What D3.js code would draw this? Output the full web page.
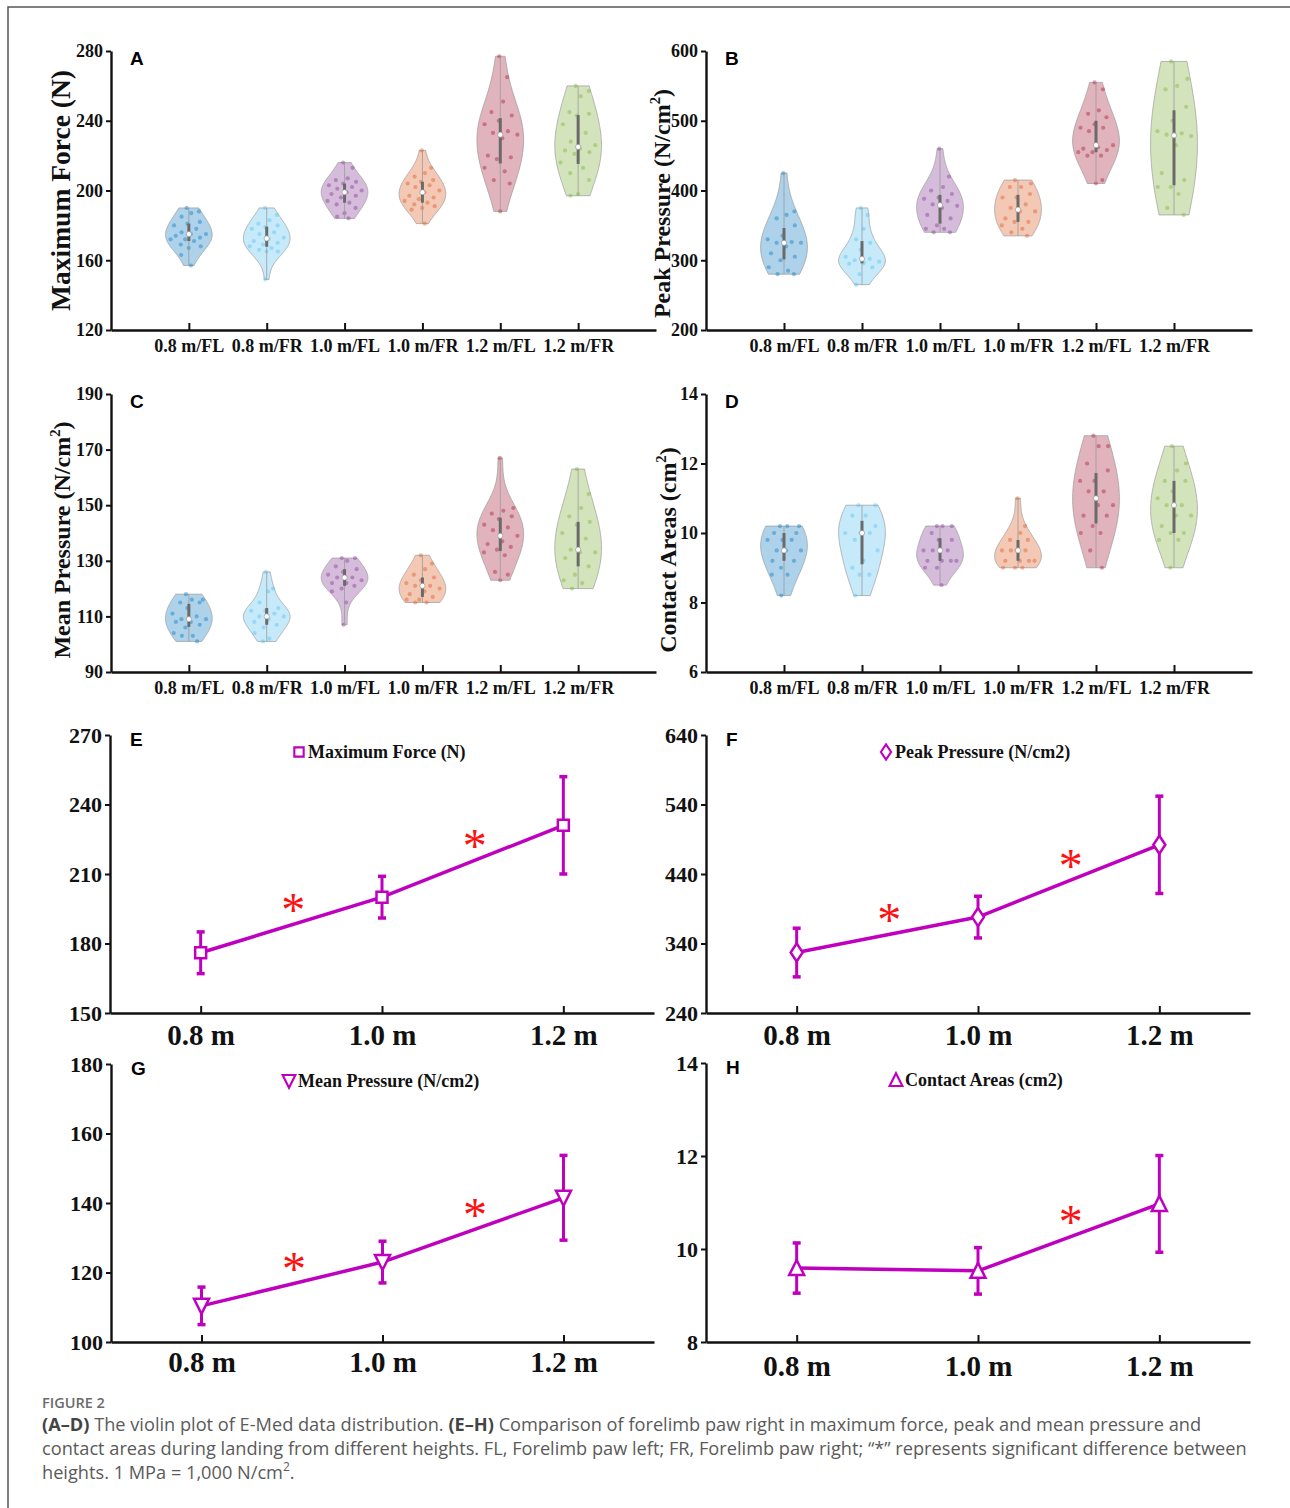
<!DOCTYPE html>
<html>
<head>
<meta charset="utf-8">
<script src="https://cdn.jsdelivr.net/npm/d3@7"></script>
<style>
  body { margin: 0; background: #fff; }
  .tick text { font-family: "Liberation Serif", serif; font-weight: bold; fill: #111; }
</style>
</head>
<body>
<svg id="fig" width="1290" height="1508"></svg>
<script>
// ---- data ----
const violinCats = ["0.8 m/FL", "0.8 m/FR", "1.0 m/FL", "1.0 m/FR", "1.2 m/FL", "1.2 m/FR"];
const violinColors = ["#0072BD", "#4DBEEE", "#7E2F8E", "#D95319", "#A2142F", "#77AC30"];

const maxForce = [
  [190, 188, 187, 185, 182, 181, 180, 178, 176, 175, 175, 174, 173, 172, 172, 171, 169, 168, 167, 163, 157],
  [190, 186, 183, 181, 180, 179, 178, 176, 175, 173, 172, 171, 170, 169, 168, 167, 166, 165, 165, 149],
  [216, 213, 207, 206, 205, 204, 203, 202, 201, 200, 199, 198, 197, 196, 194, 193, 192, 190, 187, 185, 184],
  [223, 213, 210, 208, 206, 205, 204, 203, 202, 200, 199, 197, 196, 195, 194, 193, 192, 191, 190, 189, 181],
  [277, 265, 251, 245, 243, 240, 238, 234, 233, 232, 230, 220, 219, 218, 213, 211, 206, 204, 188],
  [260, 257, 254, 245, 244, 243, 238, 233, 228, 226, 224, 223, 222, 221, 216, 213, 210, 206, 198, 197]
];
const peakPressure = [
  [425, 370, 365, 360, 350, 335, 330, 326, 325, 325, 320, 310, 305, 300, 290, 285, 280, 280],
  [375, 365, 345, 330, 325, 315, 305, 302, 300, 298, 296, 295, 290, 280, 265],
  [460, 420, 405, 400, 395, 390, 388, 385, 380, 378, 375, 365, 360, 350, 345, 345, 340, 340],
  [415, 410, 405, 405, 395, 390, 390, 380, 375, 370, 370, 360, 355, 355, 350, 345, 340, 335],
  [555, 545, 515, 510, 505, 495, 490, 490, 485, 465, 462, 460, 458, 455, 455, 450, 450, 415, 410],
  [585, 560, 550, 545, 520, 500, 485, 482, 480, 478, 465, 425, 415, 405, 405, 395, 375, 365]
];
const meanPressure = [
  [118, 116, 116, 115, 115, 113, 111, 110, 109, 109, 108, 108, 107, 106, 104, 103, 103, 101],
  [126, 120, 119, 115, 113, 112, 112, 111, 110, 110, 109, 108, 107, 106, 104, 102, 101],
  [131, 131, 130, 128, 127, 126, 125, 124, 124, 123, 122, 122, 121, 120, 119, 115, 107],
  [132, 129, 127, 125, 124, 123, 122, 121, 121, 120, 119, 118, 117, 116, 116, 115, 115],
  [167, 149, 148, 147, 146, 145, 143, 142, 141, 139, 137, 136, 135, 134, 133, 132, 126, 125, 123],
  [163, 154, 149, 146, 144, 143, 140, 138, 134, 133, 133, 131, 128, 125, 123, 122, 120]
];
const contactArea = [
  [10.2, 10.2, 10.2, 10.0, 10.0, 9.8, 9.8, 9.8, 9.5, 9.5, 9.5, 9.2, 9.2, 9.0, 8.8, 8.8, 8.2],
  [10.8, 10.8, 10.5, 10.5, 10.2, 10.0, 10.0, 10.0, 9.8, 9.5, 9.2, 9.0, 8.8, 8.8, 8.2],
  [10.2, 10.2, 10.2, 10.0, 9.8, 9.8, 9.5, 9.5, 9.5, 9.2, 9.2, 9.2, 9.2, 9.0, 9.0, 8.5],
  [11.0, 10.2, 10.0, 9.8, 9.8, 9.5, 9.5, 9.5, 9.5, 9.2, 9.2, 9.2, 9.2, 9.0, 9.0, 9.0],
  [12.8, 12.5, 12.5, 12.0, 11.8, 11.5, 11.5, 11.2, 11.2, 10.8, 10.8, 10.5, 10.5, 10.2, 10.0, 10.0, 9.5, 9.0],
  [12.5, 12.0, 11.8, 11.5, 11.5, 11.2, 11.0, 10.8, 10.8, 10.5, 10.5, 10.2, 10.0, 10.0, 9.8, 9.8, 9.0]
];

const heightLabels = ["0.8 m", "1.0 m", "1.2 m"];
const heightValues = [0.8, 1.0, 1.2];

const forceMean = [176, 200, 231];
const forceSD   = [9, 9, 21];
const peakMean  = [327, 378, 482];
const peakSD    = [35, 30, 70];
const meanPMean = [110.4, 123, 141.5];
const meanPSD   = [5.4, 6, 12.2];
const areaMean  = [9.59, 9.53, 10.97];
const areaSD    = [0.54, 0.5, 1.04];

// significant differences, at the midpoint between two heights
const forceSig = [[0.8, 1.0], [1.0, 1.2]];
const peakSig  = [[0.8, 1.0], [1.0, 1.2]];
const meanPSig = [[0.8, 1.0], [1.0, 1.2]];
const areaSig  = [[1.0, 1.2]];

const captionLines = [
  [["(A–D)", true], [" The violin plot of E-Med data distribution. ", false], ["(E–H)", true],
   [" Comparison of forelimb paw right in maximum force, peak and mean pressure and", false]],
  [["contact areas during landing from different heights. FL, Forelimb paw left; FR, Forelimb paw right; “*” represents significant difference between", false]],
  [["heights. 1 MPa = 1,000 N/cm", false], ["2", false, true], [".", false]]
];

// ---- drawing ----
const svg = d3.select("#fig");
const magenta = "#BF00BF";
const serif = "'Liberation Serif', 'Times New Roman', serif";

svg.append("path")
  .attr("d", "M8,1508V7H1290")
  .attr("fill", "none")
  .attr("stroke", "#555")
  .attr("stroke-width", 1.5);

// ksdensity-like normal kernel, truncated to the data range
const kde = values => {
  const n = values.length;
  const med = d3.median(values);
  let sig = d3.median(values, v => Math.abs(v - med)) / 0.6745;
  if (!sig) sig = d3.deviation(values) || 1;
  const bw = 1.35 * sig * Math.pow(4 / (3 * n), 0.2);
  const lo = d3.min(values), hi = d3.max(values);
  const grid = d3.range(0, 101).map(i => lo + (hi - lo) * i / 100);
  const dens = grid.map(y => d3.sum(values, v => Math.exp(-0.5 * ((y - v) / bw) ** 2)));
  const mx = d3.max(dens);
  return { lo, hi, prof: grid.map((y, i) => [y, dens[i] / mx]) };
};

const panelLetter = (x, y, t) => {
  svg.append("text")
    .attr("x", x).attr("y", y)
    .attr("font-family", "'Liberation Sans', Arial, sans-serif")
    .attr("font-weight", "bold")
    .attr("font-size", 19)
    .text(t);
};

const styleAxis = (sel, fontSize) => {
  sel.select(".domain").attr("stroke", "#111").attr("stroke-width", 2.4);
  sel.selectAll(".tick line").attr("stroke", "#111").attr("stroke-width", 2);
  sel.selectAll(".tick text").attr("font-size", fontSize);
};

const drawViolinPanel = p => {
  const x = d3.scaleLinear().domain([0, 7]).range([p.left, p.right]);
  const y = d3.scaleLinear().domain(p.domain).range([p.bottom, p.top]);
  const g = svg.append("g");
  const halfW = x(0.3) - x(0);

  p.data.forEach((vals, i) => {
    const cx = x(i + 1);
    const col = violinColors[i];
    const k = kde(vals);

    g.append("path")
      .attr("d", d3.area()
        .y(d => y(d[0]))
        .x0(d => cx - d[1] * halfW)
        .x1(d => cx + d[1] * halfW)(k.prof))
      .attr("fill", col)
      .attr("fill-opacity", 0.32)
      .attr("stroke", "#9a9a9a")
      .attr("stroke-width", 0.7);

    vals.forEach((v, j) => {
      const idx = Math.round((v - k.lo) / (k.hi - k.lo || 1) * 100);
      const w = k.prof[idx][1];
      const u = ((j * 0.618034 + 0.37) % 1) * 2 - 1;
      g.append("circle")
        .attr("cx", cx + u * 0.85 * w * halfW)
        .attr("cy", y(v))
        .attr("r", 2.1)
        .attr("fill", col)
        .attr("fill-opacity", 0.4);
    });

    const sorted = vals.slice().sort(d3.ascending);
    const q1 = d3.quantile(sorted, 0.25), q3 = d3.quantile(sorted, 0.75);
    const md = d3.quantile(sorted, 0.5);
    g.append("line")
      .attr("x1", cx).attr("x2", cx)
      .attr("y1", y(k.lo)).attr("y2", y(k.hi))
      .attr("stroke", "#9a9a9a").attr("stroke-width", 0.8);
    g.append("line")
      .attr("x1", cx).attr("x2", cx)
      .attr("y1", y(q1)).attr("y2", y(q3))
      .attr("stroke", "#6a6a6a").attr("stroke-width", 3);
    g.append("circle")
      .attr("cx", cx).attr("cy", y(md)).attr("r", 2.6)
      .attr("fill", "#fff").attr("stroke", "#888").attr("stroke-width", 0.6);
  });

  const ya = svg.append("g")
    .attr("transform", `translate(${p.left},0)`)
    .call(d3.axisLeft(y).tickValues(p.ticks).tickSizeInner(5).tickSizeOuter(0).tickPadding(3)
      .tickFormat(d3.format("d")));
  styleAxis(ya, 18);

  const xa = svg.append("g")
    .attr("transform", `translate(0,${p.bottom})`)
    .call(d3.axisBottom(x).tickValues(d3.range(1, 7)).tickSizeInner(-7).tickSizeOuter(0)
      .tickPadding(9).tickFormat(i => violinCats[i - 1]));
  styleAxis(xa, 18);

  const t = svg.append("text")
    .attr("transform", `translate(${p.titleX},${(p.top + p.bottom) / 2 + p.titleDy}) rotate(-90)`)
    .attr("text-anchor", "middle")
    .attr("font-family", serif)
    .attr("font-weight", "bold")
    .attr("font-size", p.titleSize)
    .attr("fill", "#111");
  t.append("tspan").text(p.title);
  if (p.sup) {
    t.append("tspan").attr("font-size", p.titleSize * 0.62).attr("dy", -p.titleSize * 0.4).text("2");
    t.append("tspan").attr("dy", p.titleSize * 0.4).text(")");
  }
  panelLetter(p.left + 19, p.top + 14, p.letter);
};

const markerPath = {
  square:  "M-5.5,-5.5H5.5V5.5H-5.5Z",
  diamond: "M0,-9L6,0L0,9L-6,0Z",
  triDown: "M-7.5,-7H7.5L0,8Z",
  triUp:   "M0,-8L7.5,7H-7.5Z"
};

const drawLinePanel = p => {
  const x = d3.scaleLinear().domain([0.7, 1.3]).range([p.left, p.right]);
  const y = d3.scaleLinear().domain(p.domain).range([p.bottom, p.top]);
  const g = svg.append("g");
  const pts = heightValues.map((h, i) => ({ h, m: p.mean[i], s: p.sd[i] }));

  const ya = svg.append("g")
    .attr("transform", `translate(${p.left},0)`)
    .call(d3.axisLeft(y).tickValues(p.ticks).tickSizeInner(5).tickSizeOuter(0).tickPadding(3)
      .tickFormat(d3.format("d")));
  styleAxis(ya, 22);

  const xa = svg.append("g")
    .attr("transform", `translate(0,${p.bottom})`)
    .call(d3.axisBottom(x).tickValues(heightValues).tickSizeInner(-7).tickSizeOuter(0)
      .tickPadding(p.labelPad).tickFormat((d, i) => heightLabels[i]));
  styleAxis(xa, 29);

  // error bars
  pts.forEach(d => {
    const cx = x(d.h);
    g.append("line").attr("x1", cx).attr("x2", cx)
      .attr("y1", y(d.m - d.s)).attr("y2", y(d.m + d.s))
      .attr("stroke", magenta).attr("stroke-width", 3);
    [d.m - d.s, d.m + d.s].forEach(v => {
      g.append("line").attr("x1", cx - 4).attr("x2", cx + 4)
        .attr("y1", y(v)).attr("y2", y(v))
        .attr("stroke", magenta).attr("stroke-width", 3.5);
    });
  });

  g.append("path")
    .datum(pts)
    .attr("d", d3.line().x(d => x(d.h)).y(d => y(d.m)))
    .attr("fill", "none")
    .attr("stroke", magenta)
    .attr("stroke-width", 3.5);

  g.selectAll(".mk")
    .data(pts)
    .join("path")
      .attr("transform", d => `translate(${x(d.h)},${y(d.m)})`)
      .attr("d", markerPath[p.marker])
      .attr("fill", "#fff")
      .attr("stroke", magenta)
      .attr("stroke-width", 2.5);

  // asterisks above the segment midpoints
  p.sig.forEach(([a, b]) => {
    const ia = heightValues.indexOf(a), ib = heightValues.indexOf(b);
    const mx = (a + b) / 2;
    const my = (p.mean[ia] + p.mean[ib]) / 2;
    g.append("text")
      .attr("x", x(mx) + 2)
      .attr("y", y(my) + 1)
      .attr("text-anchor", "middle")
      .attr("font-family", serif)
      .attr("font-size", 48)
      .attr("fill", "#ff1010")
      .text("*");
  });

  // legend
  const lg = svg.append("g").attr("transform", `translate(${p.legendX},${p.top + 17})`);
  lg.append("path").attr("d", markerPath[p.marker])
    .attr("transform", "scale(0.85)")
    .attr("fill", "#fff").attr("stroke", magenta).attr("stroke-width", 2.5);
  lg.append("text")
    .attr("x", 9).attr("y", 6)
    .attr("font-family", serif).attr("font-weight", "bold").attr("font-size", 18)
    .attr("fill", "#111")
    .text(p.legend);

  panelLetter(p.left + 20, p.top + 11, p.letter);
};

drawViolinPanel({ letter: "A", data: maxForce, left: 111, right: 656, top: 51, bottom: 330,
  domain: [120, 280], ticks: [120, 160, 200, 240, 280],
  title: "Maximum Force (N)", titleX: 70, titleDy: 0, titleSize: 27.5 });
drawViolinPanel({ letter: "B", data: peakPressure, left: 706, right: 1252, top: 51, bottom: 330,
  domain: [200, 600], ticks: [200, 300, 400, 500, 600],
  title: "Peak Pressure (N/cm", sup: true, titleX: 670, titleDy: 13, titleSize: 24 });
drawViolinPanel({ letter: "C", data: meanPressure, left: 111, right: 656, top: 394, bottom: 672,
  domain: [90, 190], ticks: [90, 110, 130, 150, 170, 190],
  title: "Mean Pressure (N/cm", sup: true, titleX: 70, titleDy: 7, titleSize: 24 });
drawViolinPanel({ letter: "D", data: contactArea, left: 706, right: 1252, top: 394, bottom: 672,
  domain: [6, 14], ticks: [6, 8, 10, 12, 14],
  title: "Contact Areas (cm", sup: true, titleX: 676, titleDy: 17, titleSize: 24 });

drawLinePanel({ letter: "E", mean: forceMean, sd: forceSD, sig: forceSig, marker: "square",
  left: 110, right: 654, top: 735, bottom: 1013, domain: [150, 270], ticks: [150, 180, 210, 240, 270],
  legend: "Maximum Force (N)", legendX: 299, labelPad: 11 });
drawLinePanel({ letter: "F", mean: peakMean, sd: peakSD, sig: peakSig, marker: "diamond",
  left: 706, right: 1250, top: 735, bottom: 1013, domain: [240, 640], ticks: [240, 340, 440, 540, 640],
  legend: "Peak Pressure (N/cm2)", legendX: 886, labelPad: 11 });
drawLinePanel({ letter: "G", mean: meanPMean, sd: meanPSD, sig: meanPSig, marker: "triDown",
  left: 111, right: 654, top: 1064, bottom: 1342, domain: [100, 180], ticks: [100, 120, 140, 160, 180],
  legend: "Mean Pressure (N/cm2)", legendX: 289, labelPad: 9 });
drawLinePanel({ letter: "H", mean: areaMean, sd: areaSD, sig: areaSig, marker: "triUp",
  left: 706, right: 1250, top: 1063, bottom: 1342, domain: [8, 14], ticks: [8, 10, 12, 14],
  legend: "Contact Areas (cm2)", legendX: 896, labelPad: 13 });

// caption
svg.append("text")
  .attr("x", 42).attr("y", 1408)
  .attr("font-family", "'Open Sans', sans-serif")
  .attr("font-weight", 600)
  .attr("font-size", 14.5)
  .attr("fill", "#6b6b6b")
  .text("FIGURE 2");

captionLines.forEach((parts, li) => {
  const t = svg.append("text")
    .attr("x", 42).attr("y", 1431 + li * 24)
    .attr("font-family", "'Open Sans', sans-serif")
    .attr("font-size", 18.2)
    .attr("fill", "#5a5a5a");
  parts.forEach(([s, bold, sup]) => {
    const sp = t.append("tspan").text(s);
    if (bold) sp.attr("font-weight", "bold").attr("fill", "#444");
    if (sup) sp.attr("font-size", 12).attr("baseline-shift", "super");
  });
});
</script>
</body>
</html>
